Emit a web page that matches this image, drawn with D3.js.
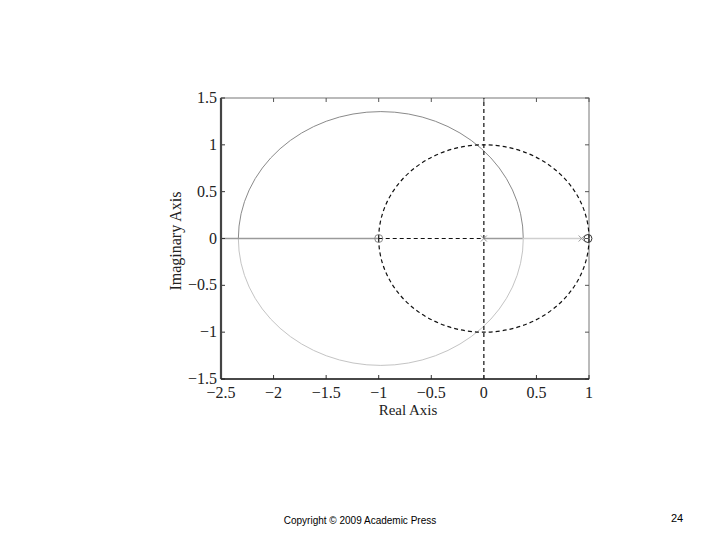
<!DOCTYPE html>
<html><head><meta charset="utf-8">
<script src="https://cdn.jsdelivr.net/npm/d3@7"></script>
<style>body{margin:0;background:#fff}svg{display:block}</style>
</head><body>
<script>
const xTicks = [-2.5, -2, -1.5, -1, -0.5, 0, 0.5, 1];
const yTicks = [-1.5, -1, -0.5, 0, 0.5, 1, 1.5];
// gray root-locus circle
const locusCenter = [-0.98, 0];
const locusRadius = 1.355;
// dashed unit circle
const unitCenter = [0, 0];
const unitRadius = 1;
// real-axis segments [x0, x1, colour-key]
const realSegments = [[-2.5, -1, "dark"], [0, 0.37, "dark"], [0.37, 0.93, "light"]];
const dashedSegments = [[[-1, 0], [0, 0]], [[0, -1.5], [0, 1.5]]];
const zeros = [[-1, 0], [0.99, 0]];
const poles = [[0, 0], [0.93, 0]];

const W = 720, H = 540;
const svg = d3.select("body").append("svg").attr("width", W).attr("height", H);
const x = d3.scaleLinear().domain([-2.5, 1]).range([221, 589]);
const y = d3.scaleLinear().domain([-1.5, 1.5]).range([379, 98]);
const fmt = d => (d < 0 ? "\u2212" : "") + String(Math.abs(d));
const serif = "'Liberation Serif', 'DejaVu Serif', serif";

const g = svg.append("g");
g.append("rect").attr("x", x(-2.5)).attr("y", y(1.5)).attr("width", x(1) - x(-2.5)).attr("height", y(-1.5) - y(1.5))
  .attr("fill", "none").attr("stroke", "#777").attr("stroke-width", 1);

const arcPath = (c, r, sweepTop) => {
  const rx = x(c[0] + r) - x(c[0]), ry = y(c[1]) - y(c[1] + r);
  return `M${x(c[0] - r)},${y(c[1])} A${rx},${ry} 0 0 ${sweepTop ? 1 : 0} ${x(c[0] + r)},${y(c[1])}`;
};
g.append("path").attr("d", arcPath(locusCenter, locusRadius, true)).attr("fill", "none").attr("stroke", "#8a8a8a").attr("stroke-width", 1);
g.append("path").attr("d", arcPath(locusCenter, locusRadius, false)).attr("fill", "none").attr("stroke", "#c4c4c4").attr("stroke-width", 1);

realSegments.forEach(s => {
  g.append("line").attr("x1", x(s[0])).attr("x2", x(s[1])).attr("y1", y(0)).attr("y2", y(0))
    .attr("stroke", s[2] === "dark" ? "#9a9a9a" : "#cfcfcf").attr("stroke-width", 1.6);
});

g.append("path").attr("d", arcPath(unitCenter, unitRadius, true)).attr("fill", "none").attr("stroke", "#111").attr("stroke-width", 1.2).attr("stroke-dasharray", "4,3");
g.append("path").attr("d", arcPath(unitCenter, unitRadius, false)).attr("fill", "none").attr("stroke", "#111").attr("stroke-width", 1.2).attr("stroke-dasharray", "4,3");
dashedSegments.forEach(s => {
  g.append("line").attr("x1", x(s[0][0])).attr("y1", y(s[0][1])).attr("x2", x(s[1][0])).attr("y2", y(s[1][1]))
    .attr("stroke", "#111").attr("stroke-width", 1.2).attr("stroke-dasharray", "4,3");
});

zeros.forEach((p, i) => {
  g.append("circle").attr("cx", x(p[0])).attr("cy", y(p[1])).attr("r", 4).attr("fill", "none")
    .attr("stroke", i === 0 ? "#888" : "#333").attr("stroke-width", 1);
});
poles.forEach(p => {
  const cx = x(p[0]), cy = y(p[1]), s = 3;
  g.append("path").attr("d", `M${cx - s},${cy - s}L${cx + s},${cy + s}M${cx - s},${cy + s}L${cx + s},${cy - s}`)
    .attr("stroke", "#999").attr("stroke-width", 1);
});

xTicks.forEach(t => {
  g.append("line").attr("x1", x(t)).attr("x2", x(t)).attr("y1", y(-1.5)).attr("y2", y(-1.5) - 4).attr("stroke", "#333");
  g.append("line").attr("x1", x(t)).attr("x2", x(t)).attr("y1", y(1.5)).attr("y2", y(1.5) + 4).attr("stroke", "#555");
});
yTicks.forEach(t => {
  g.append("line").attr("x1", x(-2.5)).attr("x2", x(-2.5) + 4).attr("y1", y(t)).attr("y2", y(t)).attr("stroke", "#333");
  g.append("line").attr("x1", x(1)).attr("x2", x(1) - 4).attr("y1", y(t)).attr("y2", y(t)).attr("stroke", "#555");
});
g.append("line").attr("x1", x(-2.5)).attr("x2", x(-2.5)).attr("y1", y(1.5)).attr("y2", y(-1.5)).attr("stroke", "#444").attr("stroke-width", 2.2);
g.append("line").attr("x1", x(-2.5)).attr("x2", x(1)).attr("y1", y(-1.5)).attr("y2", y(-1.5)).attr("stroke", "#222").attr("stroke-width", 1.5);

xTicks.forEach(t => {
  g.append("text").attr("x", x(t)).attr("y", 398).attr("text-anchor", "middle")
    .attr("font-family", serif).attr("font-size", 16).attr("fill", "#222").text(fmt(t));
});
yTicks.forEach(t => {
  g.append("text").attr("x", 217).attr("y", y(t) + 5).attr("text-anchor", "end")
    .attr("font-family", serif).attr("font-size", 16).attr("fill", "#222").text(fmt(t));
});
svg.append("text").attr("x", 408).attr("y", 415).attr("text-anchor", "middle")
  .attr("font-family", serif).attr("font-size", 15).attr("fill", "#222").text("Real Axis");
svg.append("text").attr("transform", "translate(181,241) rotate(-90)").attr("text-anchor", "middle")
  .attr("font-family", serif).attr("font-size", 16).attr("fill", "#222").text("Imaginary Axis");

svg.append("text").attr("x", 360).attr("y", 524).attr("text-anchor", "middle")
  .attr("font-family", "'Liberation Sans', Arial, sans-serif").attr("font-size", 10).attr("fill", "#000").text("Copyright \u00A9 2009 Academic Press");
svg.append("text").attr("x", 677).attr("y", 522).attr("text-anchor", "middle")
  .attr("font-family", "'Liberation Sans', Arial, sans-serif").attr("font-size", 11).attr("fill", "#000").text("24");
</script>
</body></html>
